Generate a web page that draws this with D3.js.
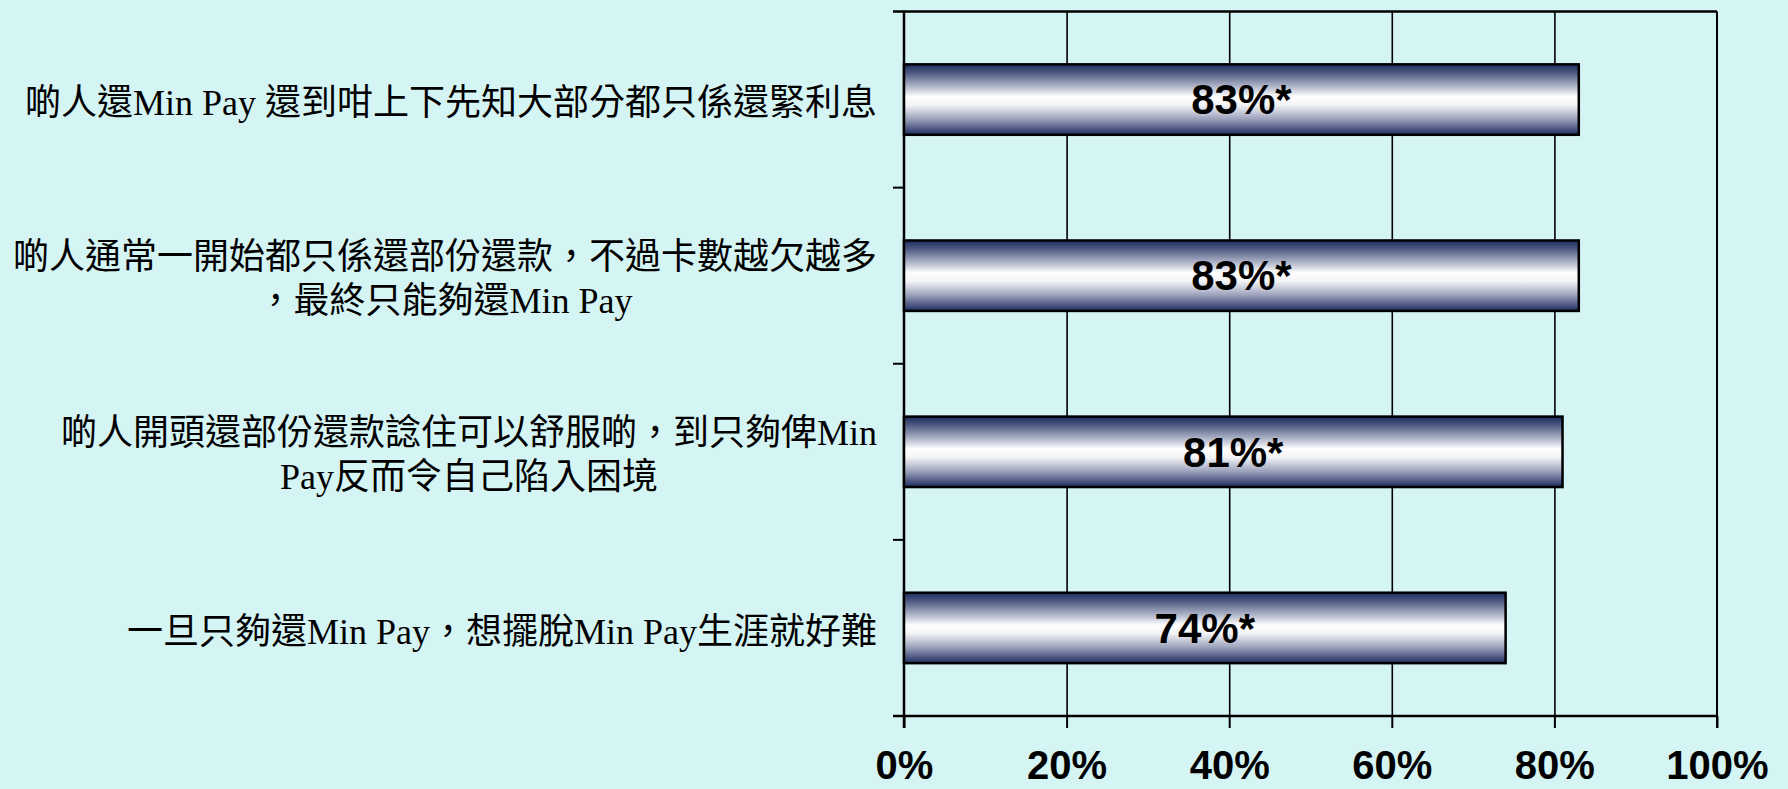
<!DOCTYPE html>
<html>
<head>
<meta charset="utf-8">
<script src="https://cdn.jsdelivr.net/npm/d3@7"></script>
<style>
  html, body { margin: 0; padding: 0; background: #d5f4f4; }
  svg { display: block; }
</style>
</head>
<body>
<div id="chart"></div>
<script>
// horizontal bar chart — share agreeing with each Min Pay statement

const CATEGORIES = [
  ['啲人還Min Pay 還到咁上下先知大部分都只係還緊利息'],
  ['啲人通常一開始都只係還部份還款，不過卡數越欠越多', '，最終只能夠還Min Pay'],
  ['啲人開頭還部份還款諗住可以舒服啲，到只夠俾Min', 'Pay反而令自己陷入困境'],
  ['一旦只夠還Min Pay，想擺脫Min Pay生涯就好難'],
];
const VALUES = [0.83, 0.83, 0.81, 0.74];
const VALUE_LABELS = ['83%*', '83%*', '81%*', '74%*'];
const X_TICKS = [0, 0.2, 0.4, 0.6, 0.8, 1];

const W = 1788, H = 789;
const plot = { left: 904, right: 1717, top: 11.5, bottom: 716 };

const svg = d3.select('#chart')
  .append('svg')
  .attr('width', W)
  .attr('height', H);

const defs = svg.append('defs');
const grad = defs.append('linearGradient')
  .attr('id', 'barGrad')
  .attr('x1', 0).attr('y1', 0)
  .attr('x2', 0).attr('y2', 1);
[
  [0, '#1d2d5c'],
  [0.12, '#4d5a82'],
  [0.3, '#a9afc4'],
  [0.46, '#ffffff'],
  [0.58, '#f3f3f6'],
  [0.78, '#9aa0ba'],
  [0.92, '#4a5680'],
  [1, '#1d2d5c'],
].forEach(([o, c]) => grad.append('stop').attr('offset', o).attr('stop-color', c));

const keys = CATEGORIES.map((d, i) => 'c' + i);

const x = d3.scaleLinear()
  .domain([0, 1])
  .range([plot.left, plot.right]);

const y = d3.scaleBand()
  .domain(keys)
  .range([plot.top, plot.bottom])
  .paddingInner(0.6)
  .paddingOuter(0.3);

// vertical grid lines
svg.append('g')
  .attr('transform', `translate(0,${plot.bottom})`)
  .call(d3.axisBottom(x)
    .tickValues(X_TICKS.slice(1, -1))
    .tickSize(-(plot.bottom - plot.top))
    .tickFormat(''))
  .call(g => g.select('.domain').remove())
  .selectAll('line')
  .attr('stroke', '#000')
  .attr('stroke-width', 1.6);

// bottom axis ticks + labels
svg.append('g')
  .attr('transform', `translate(0,${plot.bottom})`)
  .call(d3.axisBottom(x)
    .tickValues(X_TICKS)
    .tickSize(12)
    .tickFormat(d3.format('.0%')))
  .call(g => g.select('.domain').remove())
  .call(g => g.selectAll('line').attr('stroke', '#000').attr('stroke-width', 2))
  .selectAll('text')
  .attr('y', 63)
  .attr('dy', 0)
  .attr('fill', '#000')
  .attr('font-size', 40)
  .attr('font-weight', 'bold')
  .attr('font-family', 'Arial, "Liberation Sans", sans-serif');

// frame lines
const frame = svg.append('g').attr('stroke', '#000').attr('stroke-width', 2.5);
frame.append('line')
  .attr('x1', x(0) - 11).attr('x2', x(1))
  .attr('y1', plot.top).attr('y2', plot.top);
frame.append('line')
  .attr('x1', x(0) - 11).attr('x2', x(1))
  .attr('y1', plot.bottom).attr('y2', plot.bottom);
frame.append('line')
  .attr('x1', x(0)).attr('x2', x(0))
  .attr('y1', plot.top).attr('y2', plot.bottom + 12);
frame.append('line')
  .attr('x1', x(1)).attr('x2', x(1))
  .attr('y1', plot.top).attr('y2', plot.bottom + 12)
  .attr('stroke-width', 2);

// left ticks at category boundaries
const step = y.step();
svg.append('g')
  .selectAll('line')
  .data(keys.slice(1))
  .join('line')
  .attr('x1', x(0) - 11).attr('x2', x(0))
  .attr('y1', d => y(d) - step * y.paddingInner() / 2)
  .attr('y2', d => y(d) - step * y.paddingInner() / 2)
  .attr('stroke', '#000')
  .attr('stroke-width', 2);

// bars
svg.append('g')
  .selectAll('rect')
  .data(VALUES)
  .join('rect')
  .attr('x', x(0))
  .attr('y', (d, i) => y(keys[i]))
  .attr('width', d => x(d) - x(0))
  .attr('height', y.bandwidth())
  .attr('fill', 'url(#barGrad)')
  .attr('stroke', '#000')
  .attr('stroke-width', 2.5);

// value labels
svg.append('g')
  .selectAll('text')
  .data(VALUES)
  .join('text')
  .attr('x', d => (x(0) + x(d)) / 2)
  .attr('y', (d, i) => y(keys[i]) + y.bandwidth() / 2)
  .attr('dy', '0.35em')
  .attr('text-anchor', 'middle')
  .attr('font-size', 42)
  .attr('font-weight', 'bold')
  .attr('font-family', 'Arial, "Liberation Sans", sans-serif')
  .attr('fill', '#000')
  .text((d, i) => VALUE_LABELS[i]);

// category labels, right aligned block, lines centred on each other
const labelRight = 877;
const lineH = 44;
CATEGORIES.forEach((lines, i) => {
  const cy = y(keys[i]) + y.bandwidth() / 2 + 3;
  const t = svg.append('text')
    .attr('text-anchor', 'middle')
    .attr('font-size', 36)
    .attr('font-family', '"Liberation Serif", "Noto Sans CJK TC", serif')
    .attr('fill', '#000');
  const spans = lines.map((s, j) => t.append('tspan')
    .attr('y', cy + (j - (lines.length - 1) / 2) * lineH)
    .attr('dy', '0.35em')
    .text(s));
  const maxW = d3.max(spans, s => s.node().getComputedTextLength());
  spans.forEach(s => s.attr('x', labelRight - maxW / 2));
});
</script>
</body>
</html>
